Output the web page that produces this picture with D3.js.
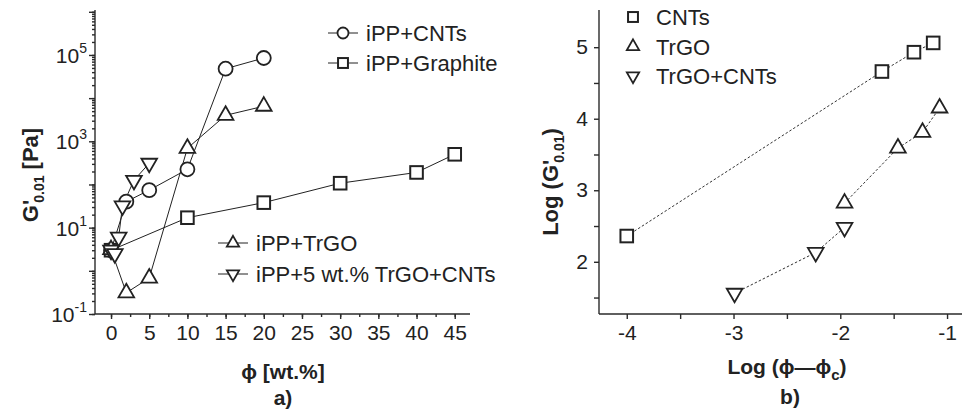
<!DOCTYPE html>
<html>
<head>
<meta charset="utf-8">
<script src="https://cdn.jsdelivr.net/npm/d3@7"></script>
<style>
  body { margin: 0; background: #fff; }
  svg { display: block; font-family: "Liberation Sans", Arial, sans-serif; }
  .axis path, .axis line { stroke: #2a2a2a; stroke-width: 1.4; }
  .axis text { font-size: 21px; fill: #222; font-family: "Liberation Sans", Arial, sans-serif; }
</style>
</head>
<body>
<svg id="chart" width="962" height="412"></svg>
<script>
// ---- panel a) data : G'0.01 [Pa] vs phi [wt.%]
const phiCNT = [0, 2, 5, 10, 15, 20];
const gCNT = [3, 40, 74, 225, 48000, 85000];
const phiGraphite = [0, 10, 20, 30, 40, 45];
const gGraphite = [3, 17, 38, 107, 190, 500];
const phiTrGO = [0, 2, 5, 10, 15, 20];
const gTrGO = [3.1, 0.31, 0.68, 690, 4000, 6500];
const phiHybrid = [0, 0.5, 1, 1.5, 3, 5];
const gHybrid = [3, 2.5, 6, 32, 125, 310];

// ---- panel b) data : Log G'0.01 vs Log(phi - phi_c)
const logPhiCNT = [-4.0, -1.61, -1.31, -1.13];
const logGCNT = [2.36, 4.66, 4.93, 5.06];
const logPhiTrGO = [-1.96, -1.46, -1.23, -1.07];
const logGTrGO = [2.82, 3.59, 3.81, 4.15];
const logPhiHyb = [-2.99, -2.23, -1.96];
const logGHyb = [1.56, 2.13, 2.48];

const xTicksA = [0, 5, 10, 15, 20, 25, 30, 35, 40, 45];
const yLabelExpA = [-1, 1, 3, 5];
const xTicksB = [-4, -3, -2, -1];
const yTicksB = [2, 3, 4, 5];

const svg = d3.select('#chart');
const ink = '#222';

const zip = (xs, ys) => xs.map((x, i) => ({x: x, y: ys[i]}));

// marker drawing
function marker(g, type, x, y, s) {
  if (type === 'circle') {
    g.append('circle').attr('cx', x).attr('cy', y).attr('r', s * 0.5)
      .attr('fill', '#fff').attr('stroke', ink).attr('stroke-width', 1.8);
  } else if (type === 'square') {
    g.append('rect').attr('x', x - s * 0.45).attr('y', y - s * 0.45)
      .attr('width', s * 0.9).attr('height', s * 0.9)
      .attr('fill', '#fff').attr('stroke', ink).attr('stroke-width', 2);
  } else {
    const area = Math.sqrt(3) / 4 * s * s * 1.25;
    const rot = type === 'down' ? 180 : 0;
    g.append('path').attr('d', d3.symbol().type(d3.symbolTriangle).size(area)())
      .attr('transform', `translate(${x},${y}) rotate(${rot})`)
      .attr('fill', '#fff').attr('stroke', ink).attr('stroke-width', 1.8);
  }
}

// ================= panel a =================
const xA = d3.scaleLinear().domain([-2.1, 47]).range([95, 470]);
const yA = d3.scaleLog().domain([0.1, 1.1e6]).range([314, 10]);

const minorLog = [];
for (let e = -1; e < 6; e++) for (let m = 1; m < 10; m++) minorLog.push(m * Math.pow(10, e));
minorLog.push(1e6);

const gA = svg.append('g');
gA.append('g').attr('class', 'axis').attr('transform', 'translate(0,314)')
  .call(d3.axisBottom(xA).tickValues(d3.range(0, 47, 2.5)).tickSize(3).tickFormat(''));
gA.append('g').attr('class', 'axis').attr('transform', 'translate(0,314)')
  .call(d3.axisBottom(xA).tickValues(xTicksA).tickSize(5).tickPadding(6).tickFormat(d3.format('d')));
gA.append('g').attr('class', 'axis').attr('transform', 'translate(95,0)')
  .call(d3.axisLeft(yA).tickValues(minorLog).tickSize(3).tickFormat(''));
gA.append('g').attr('class', 'axis').attr('transform', 'translate(95,0)')
  .call(d3.axisLeft(yA).tickValues(d3.range(-1, 7).map(e => Math.pow(10, e))).tickSize(6).tickFormat(''));
gA.selectAll('.axis path').attr('d', null);
gA.append('line').attr('x1', 95).attr('x2', 95).attr('y1', 10).attr('y2', 314).attr('stroke', '#2a2a2a').attr('stroke-width', 1.4);
gA.append('line').attr('x1', 95).attr('x2', 470).attr('y1', 314).attr('y2', 314).attr('stroke', '#2a2a2a').attr('stroke-width', 1.4);

yLabelExpA.forEach(e => {
  const t = gA.append('text').attr('x', 87).attr('y', yA(Math.pow(10, e)) + 8)
    .attr('text-anchor', 'end').attr('fill', ink).style('font-size', '21px');
  t.append('tspan').text('10');
  t.append('tspan').attr('dy', -10).style('font-size', '14px').text(e);
});

const seriesA = [
  {name: 'iPP+CNTs', type: 'circle', pts: zip(phiCNT, gCNT)},
  {name: 'iPP+Graphite', type: 'square', pts: zip(phiGraphite, gGraphite)},
  {name: 'iPP+TrGO', type: 'up', pts: zip(phiTrGO, gTrGO)},
  {name: 'iPP+5 wt.% TrGO+CNTs', type: 'down', pts: zip(phiHybrid, gHybrid)}
];
const lineA = d3.line().x(d => xA(d.x)).y(d => yA(d.y));
seriesA.forEach(s => {
  gA.append('path').attr('d', lineA(s.pts)).attr('fill', 'none').attr('stroke', ink).attr('stroke-width', 1);
});
seriesA.forEach(s => {
  s.pts.forEach(p => marker(gA, s.type, xA(p.x), yA(p.y), 14));
});

// legend a
const legA = [
  {s: seriesA[0], x: 328, y: 33},
  {s: seriesA[1], x: 328, y: 63},
  {s: seriesA[2], x: 218, y: 243},
  {s: seriesA[3], x: 218, y: 274}
];
legA.forEach(l => {
  gA.append('line').attr('x1', l.x).attr('x2', l.x + 30).attr('y1', l.y).attr('y2', l.y)
    .attr('stroke', ink).attr('stroke-width', 1);
  marker(gA, l.s.type, l.x + 15, l.y, 11);
  gA.append('text').attr('x', l.x + 38).attr('y', l.y + 8).attr('fill', ink)
    .style('font-size', '22px').text(l.s.name);
});

// titles a
const yTitleA = gA.append('text').attr('transform', 'translate(38,175) rotate(-90)')
  .attr('text-anchor', 'middle').attr('fill', ink).style('font-size', '22px').style('font-weight', 'bold');
yTitleA.append('tspan').text("G'");
yTitleA.append('tspan').attr('dy', 6).attr('dx', -3).style('font-size', '14px').text('0.01');
yTitleA.append('tspan').attr('dy', -6).text(' [Pa]');
gA.append('text').attr('x', 283).attr('y', 379).attr('text-anchor', 'middle').attr('fill', ink)
  .style('font-size', '21px').style('font-weight', 'bold').text('ϕ [wt.%]');
gA.append('text').attr('x', 283).attr('y', 405).attr('text-anchor', 'middle').attr('fill', ink)
  .style('font-size', '21px').style('font-weight', 'bold').text('a)');

// ================= panel b =================
const xB = d3.scaleLinear().domain([-4.26, -0.86]).range([599, 962]);
const yB = d3.scaleLinear().domain([1.27, 5.52]).range([314, 10]);

const gB = svg.append('g');
gB.append('g').attr('class', 'axis').attr('transform', 'translate(0,314)')
  .call(d3.axisBottom(xB).tickValues([-3.5, -2.5, -1.5]).tickSize(5).tickFormat(''));
gB.append('g').attr('class', 'axis').attr('transform', 'translate(0,314)')
  .call(d3.axisBottom(xB).tickValues(xTicksB).tickSize(5).tickPadding(6).tickFormat(d => '-' + Math.abs(d)));
gB.append('g').attr('class', 'axis').attr('transform', 'translate(599,0)')
  .call(d3.axisLeft(yB).tickValues([1.5, 2.5, 3.5, 4.5]).tickSize(5).tickFormat(''));
gB.append('g').attr('class', 'axis').attr('transform', 'translate(599,0)')
  .call(d3.axisLeft(yB).tickValues(yTicksB).tickSize(5).tickPadding(6).tickFormat(d3.format('d')));
gB.selectAll('.axis path').attr('d', null);
gB.append('line').attr('x1', 599).attr('x2', 599).attr('y1', 10).attr('y2', 314).attr('stroke', '#2a2a2a').attr('stroke-width', 1.4);
gB.append('line').attr('x1', 599).attr('x2', 962).attr('y1', 314).attr('y2', 314).attr('stroke', '#2a2a2a').attr('stroke-width', 1.4);

const seriesB = [
  {name: 'CNTs', type: 'square', pts: zip(logPhiCNT, logGCNT)},
  {name: 'TrGO', type: 'up', pts: zip(logPhiTrGO, logGTrGO)},
  {name: 'TrGO+CNTs', type: 'down', pts: zip(logPhiHyb, logGHyb)}
];
const lineB = d3.line().x(d => xB(d.x)).y(d => yB(d.y));
seriesB.forEach(s => {
  gB.append('path').attr('d', lineB(s.pts)).attr('fill', 'none').attr('stroke', '#333')
    .attr('stroke-width', 1).attr('stroke-dasharray', '2.5,2');
});
seriesB.forEach(s => {
  s.pts.forEach(p => marker(gB, s.type, xB(p.x), yB(p.y), 14));
});

seriesB.forEach((s, i) => {
  marker(gB, s.type, 633, 17 + i * 29.5, 11);
  gB.append('text').attr('x', 656).attr('y', 25 + i * 29.5).attr('fill', ink)
    .style('font-size', '22px').text(s.name);
});

const yTitleB = gB.append('text').attr('transform', 'translate(558,182) rotate(-90)')
  .attr('text-anchor', 'middle').attr('fill', ink).style('font-size', '22px').style('font-weight', 'bold');
yTitleB.append('tspan').text("Log (G'");
yTitleB.append('tspan').attr('dy', 6).attr('dx', -3).style('font-size', '14px').text('0.01');
yTitleB.append('tspan').attr('dy', -6).text(')');
const xTitleB = gB.append('text').attr('x', 787).attr('y', 374).attr('text-anchor', 'middle').attr('fill', ink)
  .style('font-size', '21px').style('font-weight', 'bold');
xTitleB.append('tspan').text('Log (ϕ—ϕ');
xTitleB.append('tspan').attr('dy', 6).style('font-size', '15px').text('c');
xTitleB.append('tspan').attr('dy', -6).text(')');
gB.append('text').attr('x', 790).attr('y', 404).attr('text-anchor', 'middle').attr('fill', ink)
  .style('font-size', '21px').style('font-weight', 'bold').text('b)');
</script>
</body>
</html>
